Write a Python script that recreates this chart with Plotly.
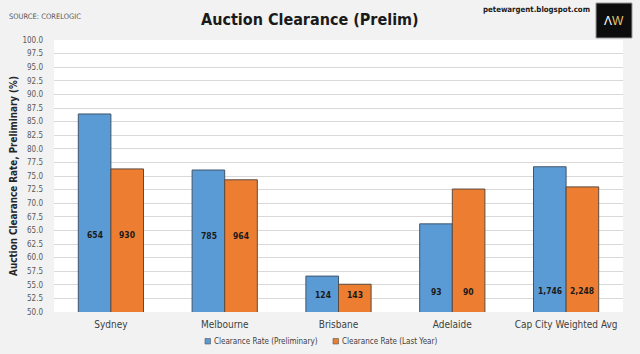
import plotly.graph_objects as go

categories = ["Sydney", "Melbourne", "Brisbane", "Adelaide", "Cap City Weighted Avg"]
prelim_rate = [86.4, 76.1, 56.6, 66.2, 76.7]
last_year_rate = [76.3, 74.3, 55.1, 72.6, 73.0]
prelim_volume = ["654", "785", "124", "93", "1,746"]
last_year_volume = ["930", "964", "143", "90", "2,248"]
label_y = [64.2, 64.0, 53.2, 53.7, 53.8]
series_names = ["Clearance Rate (Preliminary)", "Clearance Rate (Last Year)"]

font = "DejaVu Sans Condensed, Liberation Sans"
blue, orange = "#5b9bd5", "#ed7d31"
L, R, T, B, W, H = 54, 17, 40, 42, 640, 354
PW, PH = W - L - R, H - T - B


def px(x):
    return (x - L) / PW


def py(y):
    return 1 - (y - T) / PH


fig = go.Figure()
fig.add_bar(x=categories, y=prelim_rate, name=series_names[0], showlegend=False,
            marker=dict(color=blue, line=dict(color="#41546a", width=1)))
fig.add_bar(x=categories, y=last_year_rate, name=series_names[1], showlegend=False,
            marker=dict(color=orange, line=dict(color="#5a4a40", width=1)))

for c, a, b, ly in zip(categories, prelim_volume, last_year_volume, label_y):
    for txt, shift in ((a, -16), (b, 16)):
        fig.add_annotation(x=c, y=ly, text="<b>" + txt + "</b>", xref="x", yref="y", showarrow=False,
                           xshift=shift, font=dict(family=font, size=8.5, color="#1a1a1a"))

# legend drawn manually (small squares close to text)
for (sx, nm, col) in ((205, series_names[0], blue), (333, series_names[1], orange)):
    fig.add_shape(type="rect", xref="paper", yref="paper",
                  x0=px(sx), x1=px(sx + 5.5), y0=py(344), y1=py(338.5),
                  fillcolor=col, line=dict(color="#555555", width=0.6))
    fig.add_annotation(text=nm, xref="paper", yref="paper", x=px(sx + 7), y=py(341.5),
                       xanchor="left", yanchor="middle", showarrow=False,
                       font=dict(family=font, size=8, color="#404040"))

fig.update_layout(
    width=W, height=H,
    margin=dict(l=L, r=R, t=T, b=B),
    paper_bgcolor="#f2f2f2", plot_bgcolor="#ffffff",
    barmode="group", bargap=0.427, bargroupgap=0,
    showlegend=False,
    xaxis=dict(showgrid=False, showline=False, ticks="", automargin=False,
               ticklabelstandoff=5,
               tickfont=dict(family=font, size=10, color="#404040")),
    yaxis=dict(range=[50, 100], dtick=2.5, tickformat=".1f", showgrid=True, automargin=False,
               gridcolor="#d9d9d9", gridwidth=1, zeroline=False, showline=False,
               ticklabelstandoff=10,
               tickfont=dict(family=font, size=8, color="#595959"),
               title=dict(text="<b>Auction Clearance Rate, Preliminary (%)</b>",
                          font=dict(family=font, size=9.8, color="#262626"), standoff=2)),
)

fig.add_annotation(text="<b>Auction Clearance (Prelim)</b>", xref="paper", yref="paper",
                   x=px(310), y=py(19), showarrow=False,
                   xanchor="center", yanchor="middle",
                   font=dict(family=font, size=16, color="#1a1a1a"))
fig.add_annotation(text="SOURCE: CORELOGIC", xref="paper", yref="paper",
                   x=px(7), y=py(16), showarrow=False,
                   xanchor="left", yanchor="middle",
                   font=dict(family=font, size=7.5, color="#595959"))
fig.add_annotation(text="<b>petewargent.blogspot.com</b>", xref="paper", yref="paper",
                   x=px(592), y=py(10), showarrow=False,
                   xanchor="right", yanchor="middle",
                   font=dict(family=font, size=7.8, color="#1a1a1a"))
fig.add_shape(type="rect", xref="paper", yref="paper",
              x0=px(596), x1=px(632), y0=py(38), y1=py(3),
              fillcolor="#0d0d0d", line=dict(color="#999999", width=1))
fig.add_annotation(text="<span style='color:#ffffff'>Λ</span><span style='color:#e8c46a'>W</span>",
                   xref="paper", yref="paper",
                   x=px(614), y=py(21), showarrow=False,
                   xanchor="center", yanchor="middle",
                   font=dict(family="Liberation Sans", size=12, color="#ffffff"))

fig.write_html("out.html")
